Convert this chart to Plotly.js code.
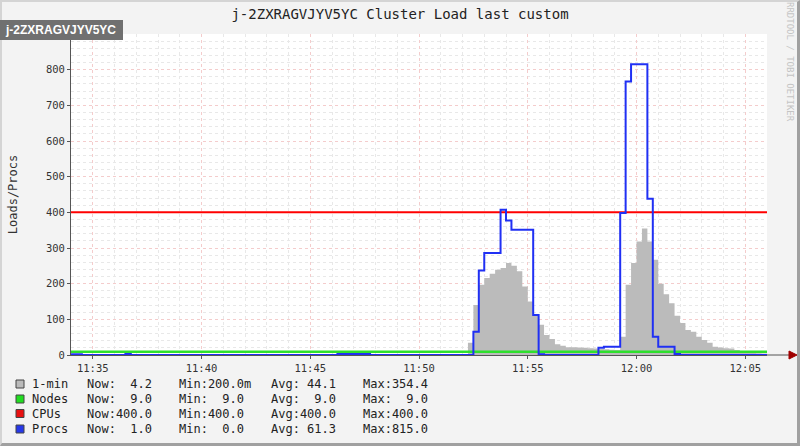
<!DOCTYPE html>
<html>
<head>
<meta charset="utf-8">
<script src="https://cdn.plot.ly/plotly-3.0.1.min.js"></script>
<style>
html,body{margin:0;padding:0;background:#f3f3f3;}
#wrap{position:relative;width:800px;height:446px;overflow:hidden;}
#chart{position:absolute;left:0;top:0;width:800px;height:446px;}
#frame{position:absolute;left:0;top:0;width:800px;height:446px;box-sizing:border-box;border-top:2px solid #d4d4d4;border-left:2px solid #d4d4d4;border-right:3px solid #a0a0a0;border-bottom:3px solid #a0a0a0;pointer-events:none;}
#host{position:absolute;left:0;top:20px;width:123px;height:20px;background:#707070;color:#ffffff;font:bold 12px "Liberation Sans",Arial,sans-serif;line-height:20px;padding-left:6px;box-sizing:border-box;white-space:nowrap;}
</style>
</head>
<body>
<div id="wrap">
  <div id="chart"></div>
  <div id="frame"></div>
  <div id="host">j-2ZXRAGVJYV5YC</div>
</div>
<script>
// ---- data (15 s samples, 11:34:00 .. 12:06:00) ----
const startTime = "11:34:00";
const stepSeconds = 15;

const load1min = [
  1.2,1.0,0.9,0.8,0.8,0.7,0.6,0.6,0.5,0.5,
  0.8,1.1,0.9,0.7,0.6,0.5,0.4,0.4,0.3,0.3,
  0.3,0.2,0.2,0.3,0.4,0.3,0.3,0.2,0.2,0.2,
  0.3,0.3,0.2,0.2,0.2,0.3,0.4,0.5,0.6,0.8,
  1.0,1.2,1.4,1.5,1.4,1.3,1.2,1.0,0.9,1.1,
  1.5,1.8,1.9,1.7,1.5,1.2,1.0,0.8,0.7,0.6,
  0.5,0.4,0.4,0.3,0.3,0.3,0.2,0.2,0.2,0.3,
  0.3,0.4,0.6,34,140,197,216,228,239,244,
  258,250,235,192,150,112,85,56,45,30,
  26,22,22,21,20,19,18,17,16,15,
  14,51,197,258,318,354.4,318,267,200,170,
  145,110,90,70,65,51,42,34,23,21,
  19,18,14,10,8,6,5,4.5,4.2
];

const procs = [
  2,2,0,0,0,0,0,0,0,0,
  3,0,0,0,0,0,0,0,0,0,
  0,0,0,0,0,0,0,0,0,0,
  0,0,0,0,0,0,0,0,0,0,
  0,0,0,0,0,0,0,0,0,3,
  3,3,3,3,3,0,0,0,0,0,
  0,0,0,0,0,0,0,0,0,0,
  0,0,0,0,65,237,286,286,286,407,
  377,351,351,351,351,112,2,0,0,0,
  0,0,0,0,0,0,0,20,23,23,
  23,398,767,815,815,815,438,51,23,23,
  23,3,0,0,0,0,0,0,0,0,
  0,0,0,0,0,0,0,0,1
];

const flatTimes = ["11:34:00", "12:06:00"];
const nodes = [9, 9];
const cpus = [400, 400];

const yTickVals = [0,100,200,300,400,500,600,700,800,900];
const yTickText = ["0","100","200","300","400","500","600","700","800",""];

const legendNames = ["1-min", "Nodes", "CPUs", "Procs"];
const legendNow = ["Now:  4.2", "Now:  9.0", "Now:400.0", "Now:  1.0"];
const legendMin = ["Min:200.0m", "Min:  9.0", "Min:400.0", "Min:  0.0"];
const legendAvg = ["Avg: 44.1", "Avg:  9.0", "Avg:400.0", "Avg: 61.3"];
const legendMax = ["Max:354.4", "Max:  9.0", "Max:400.0", "Max:815.0"];

// ---- styles ----
const DAY = "2024-01-01 ";
const colLoad = "#bbbbbb", colNodes = "#2ee02e", colCpus = "#ff0000", colProcs = "#2030f4";
const legendColors = ["#bbbbbb", "#22dd22", "#e81010", "#2638e8"];
const mono = "DejaVu Sans Mono, monospace";

function timeAt(i) {
  const p = startTime.split(":").map(Number);
  let s = p[0]*3600 + p[1]*60 + p[2] + i*stepSeconds;
  const h = Math.floor(s/3600); s -= h*3600;
  const m = Math.floor(s/60); s -= m*60;
  const f = n => String(n).padStart(2, "0");
  return DAY + f(h) + ":" + f(m) + ":" + f(s);
}
const sampleTimes = load1min.map((_, i) => timeAt(i));
const flatX = flatTimes.map(t => DAY + t);

// plot box in pixels
const L = 71, R = 33, T = 34, B = 91, W = 800, H = 446;
const PW = W - L - R, PH = H - T - B;
const px = x => (x - L) / PW;
const py = y => (H - B - y) / PH;

const traces = [
  {x: sampleTimes, y: load1min, type: "scatter", mode: "lines", line: {shape: "hv", width: 0, color: colLoad},
   fill: "tozeroy", fillcolor: colLoad, name: "1-min", hoverinfo: "skip"},
  {x: flatX, y: nodes, type: "scatter", mode: "lines", line: {width: 2.5, color: colNodes}, name: "Nodes"},
  {x: flatX, y: cpus, type: "scatter", mode: "lines", line: {width: 2, color: colCpus}, name: "CPUs"},
  {x: sampleTimes, y: procs, type: "scatter", mode: "lines", line: {shape: "hv", width: 2, color: colProcs}, name: "Procs"}
];

const shapes = [
  {type: "line", xref: "paper", yref: "paper", x0: 1, x1: px(790), y0: 0, y1: 0, line: {color: "#555555", width: 1}},
  {type: "path", xref: "paper", yref: "paper",
   path: "M " + px(789) + " " + py(351) + " L " + px(797) + " " + py(355) + " L " + px(789) + " " + py(359) + " Z",
   fillcolor: "#a00000", line: {color: "#a00000", width: 1}}
];
const rowY = [384, 399, 413.5, 429];
const annotations = [];
rowY.forEach((cy, r) => {
  shapes.push({type: "rect", xref: "paper", yref: "paper", x0: px(16), x1: px(24), y0: py(cy + 4), y1: py(cy - 4),
    fillcolor: legendColors[r], line: {color: "#444444", width: 1}});
  const cols = [[32, legendNames[r]], [87, legendNow[r]], [179, legendMin[r]], [271, legendAvg[r]], [363, legendMax[r]]];
  cols.forEach(c => annotations.push({xref: "paper", yref: "paper", x: px(c[0] - 2), y: py(cy), xanchor: "left", yanchor: "middle",
    text: c[1].replace(/ /g, "&nbsp;"), showarrow: false, font: {family: mono, size: 12, color: "#222222"}}));
});
annotations.push({xref: "paper", yref: "paper", x: px(790), y: py(62), xanchor: "center", yanchor: "middle",
  text: "RRDTOOL / TOBI OETIKER", textangle: 90, showarrow: false, font: {family: mono, size: 9, color: "#c4c4c4"}});

const layout = {
  width: W, height: H,
  margin: {l: L, r: R, t: T, b: B, pad: 0},
  paper_bgcolor: "#f3f3f3", plot_bgcolor: "#ffffff",
  showlegend: false,
  title: {text: "j-2ZXRAGVJYV5YC Cluster Load last custom", font: {family: mono, size: 14, color: "#222222"},
          xref: "container", x: 0.5, xanchor: "center", yref: "container", y: 1 - 14/H, yanchor: "middle"},
  xaxis: {type: "date", range: [DAY + "11:34:00", DAY + "12:06:00"], tickformat: "%H:%M",
          tickmode: "linear", tick0: DAY + "11:35:00", dtick: 300000,
          showgrid: true, gridcolor: "#f4cccc", griddash: "dot", gridwidth: 1,
          minor: {tickmode: "linear", tick0: DAY + "11:34:00", dtick: 60000, showgrid: true, gridcolor: "#e8e8e8", griddash: "dot", gridwidth: 1},
          showline: true, linecolor: "#555555", linewidth: 1, ticks: "outside", ticklen: 3, tickcolor: "#555555",
          tickfont: {family: mono, size: 10.5, color: "#333333"}, zeroline: false, fixedrange: true, automargin: false},
  yaxis: {range: [0, 900], tickmode: "array", tickvals: yTickVals, ticktext: yTickText,
          showgrid: true, gridcolor: "#f4cccc", griddash: "dot", gridwidth: 1,
          minor: {tickmode: "linear", tick0: 0, dtick: 20, showgrid: true, gridcolor: "#e8e8e8", griddash: "dot", gridwidth: 1},
          showline: true, linecolor: "#555555", linewidth: 1, ticks: "outside", ticklen: 3, tickcolor: "#555555",
          tickfont: {family: mono, size: 10.5, color: "#333333"}, zeroline: false, fixedrange: true, automargin: false,
          title: {text: "Loads/Procs", font: {family: mono, size: 12, color: "#333333"}, standoff: 25}},
  shapes: shapes,
  annotations: annotations
};

Plotly.newPlot("chart", traces, layout, {staticPlot: true, displayModeBar: false});
</script>
</body>
</html>
